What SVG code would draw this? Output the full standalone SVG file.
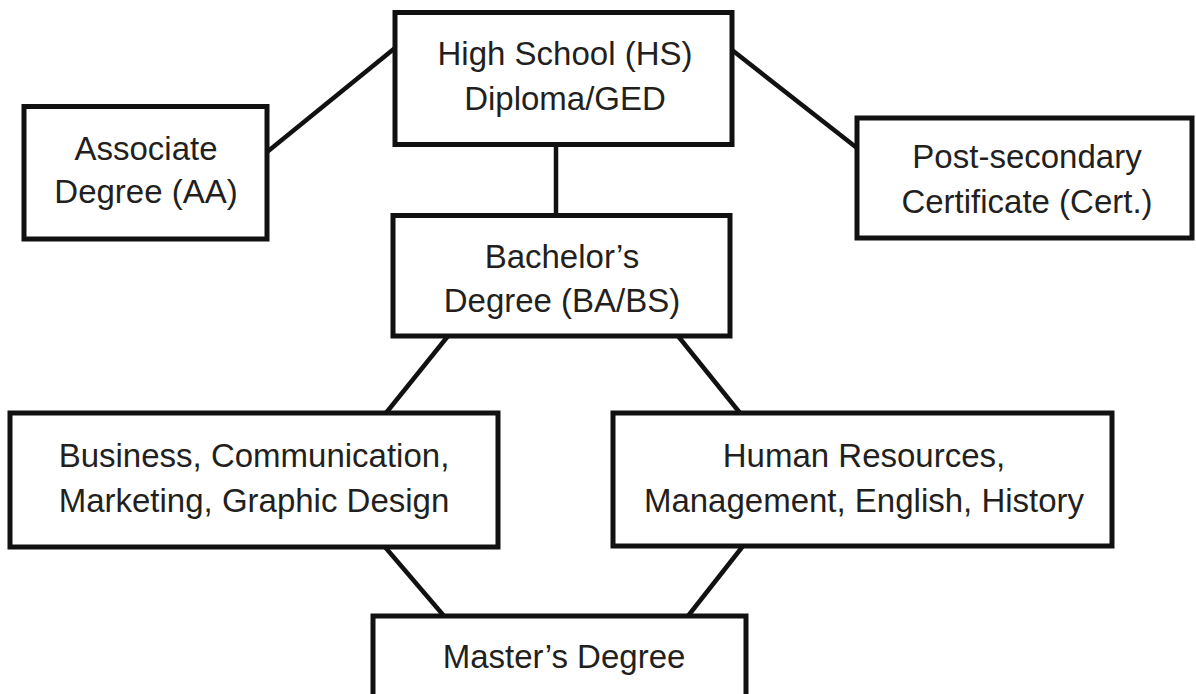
<svg xmlns="http://www.w3.org/2000/svg" width="1196" height="694" viewBox="0 0 1196 694">
<style>
.box{fill:#fff;stroke:#111;stroke-width:5}
.lbl{font-family:"Liberation Sans",Arial,sans-serif;font-size:33px;fill:#231f20;text-anchor:middle}
.con line{stroke:#111;stroke-width:4.5}
</style>
<rect width="1196" height="694" fill="#fff"/>
<g id="connectors" class="con">
<line x1="267" y1="152" x2="395" y2="48"/>
<line x1="732" y1="50" x2="857" y2="148"/>
<line x1="556" y1="144" x2="556" y2="216"/>
<line x1="448" y1="336" x2="386" y2="413"/>
<line x1="678" y1="336" x2="740" y2="413"/>
<line x1="385" y1="547" x2="444" y2="616"/>
<line x1="743" y1="546" x2="688" y2="616"/>
</g>
<g id="hs"><rect class="box" x="395" y="12.5" width="337" height="132"/>
<text class="lbl" x="565" y="65">High School (HS)</text><text class="lbl" x="565" y="110">Diploma/GED</text></g>
<g id="aa"><rect class="box" x="24" y="106.5" width="243" height="132.5"/>
<text class="lbl" x="146" y="160">Associate</text><text class="lbl" x="146" y="203">Degree (AA)</text></g>
<g id="cert"><rect class="box" x="857" y="118" width="335" height="120"/>
<text class="lbl" x="1027" y="168">Post-secondary</text><text class="lbl" x="1027" y="213">Certificate (Cert.)</text></g>
<g id="ba"><rect class="box" x="393" y="215.5" width="337" height="120.5"/>
<text class="lbl" x="562" y="268">Bachelor’s</text><text class="lbl" x="562" y="312">Degree (BA/BS)</text></g>
<g id="business"><rect class="box" x="10" y="413" width="488" height="134"/>
<text class="lbl" x="254" y="467">Business, Communication,</text><text class="lbl" x="254" y="512">Marketing, Graphic Design</text></g>
<g id="hr"><rect class="box" x="613" y="413" width="499" height="133"/>
<text class="lbl" x="864" y="467">Human Resources,</text><text class="lbl" x="864" y="512">Management, English, History</text></g>
<g id="ma"><rect class="box" x="373" y="616" width="373" height="100"/>
<text class="lbl" x="564" y="668">Master’s Degree</text></g>
</svg>
